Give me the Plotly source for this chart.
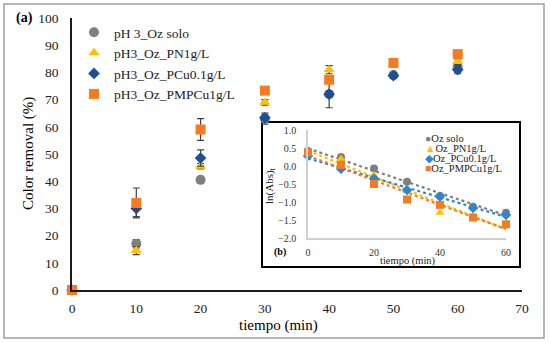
import numpy as np
import plotly.graph_objects as go

# ---------------- data ----------------
t_main = [0, 10, 20, 30, 40, 50, 60]
main_names = ["pH 3_Oz solo", "pH3_Oz_PN1g/L", "pH3_Oz_PCu0.1g/L", "pH3_Oz_PMPCu1g/L"]
solo = [0, 17, 40.5, 63, 72, 79, 82]
pn1 = [0, 14.5, 45.5, 69, 81, 83, 84]
pcu = [0, 30, 48.5, 63.3, 72, 78.8, 81]
pmpcu = [0, 32, 59, 73.3, 77.3, 83.5, 86.7]
err_solo = [0, 1.5, 0, 2, 5, 1, 2]
err_pn1 = [0, 1.5, 1, 1, 1.5, 1, 1]
err_pcu = [0, 3, 3, 1, 1, 1, 1.5]
err_pmpcu = [0, 5.5, 4, 1, 1, 1, 1]

t_inset = [0, 10, 20, 30, 40, 50, 60]
inset_names = ["Oz solo", "Oz_PN1g/L", "Oz_PCu0.1g/L", "Oz_PMPCu1g/L"]
ln_solo = [0.42, 0.25, -0.07, -0.44, -0.83, -1.13, -1.30]
ln_pn1 = [0.38, 0.20, -0.25, -0.70, -1.30, -1.40, -1.60]
ln_pcu = [0.28, -0.08, -0.35, -0.67, -0.85, -1.17, -1.36]
ln_pmpcu = [0.38, 0.03, -0.50, -0.93, -1.08, -1.43, -1.62]

x_ticks_main = [0, 10, 20, 30, 40, 50, 60, 70]
y_ticks_main = [0, 10, 20, 30, 40, 50, 60, 70, 80, 90, 100]
x_ticks_inset = [0, 20, 40, 60]
y_ticks_inset = [1.0, 0.5, 0.0, -0.5, -1.0, -1.5, -2.0]

# ---------------- styles ----------------
colors = ["#7f7f7f", "#ffc000", "#1f4e99", "#f47b20"]
inset_colors = ["#7f7f7f", "#ffc000", "#2e86d0", "#f47b20"]
symbols = ["circle", "triangle-up", "diamond", "square"]
sizes = [10, 10, 9, 10]
glyphs = ["\u25CF", "\u25B2", "\u25C6", "\u25A0"]
FONT = "Liberation Serif, Times New Roman, serif"

fig = go.Figure()

main_series = [solo, pn1, pcu, pmpcu]
main_errs = [err_solo, err_pn1, err_pcu, err_pmpcu]
for name, ys, es, c, s, sz in zip(main_names, main_series, main_errs, colors, symbols, sizes):
    fig.add_trace(go.Scatter(
        x=t_main, y=ys, mode="markers", name=name,
        marker=dict(color=c, symbol=s, size=sz, line=dict(width=0)),
        error_y=dict(type="data", array=es, color="#404040", thickness=1.2, width=3.5),
        cliponaxis=False, xaxis="x", yaxis="y", legend="legend",
    ))

# inset traces + trend lines (least-squares fit of each inset series)
inset_series = [ln_solo, ln_pn1, ln_pcu, ln_pmpcu]
tx = np.array(t_inset, dtype=float)
for name, ys, c, s in zip(inset_names, inset_series, inset_colors, symbols):
    k, b = np.polyfit(tx, np.array(ys), 1)
    xl = [tx.min(), tx.max()]
    fig.add_trace(go.Scatter(
        x=xl, y=[k * v + b for v in xl], mode="lines",
        line=dict(color=c, width=2.2, dash="dot"),
        showlegend=False, xaxis="x2", yaxis="y2", hoverinfo="skip",
    ))
for name, ys, c, s in zip(inset_names, inset_series, inset_colors, symbols):
    fig.add_trace(go.Scatter(
        x=t_inset, y=ys, mode="markers", name=name,
        marker=dict(color=c, symbol=s, size=8),
        showlegend=False, cliponaxis=False, xaxis="x2", yaxis="y2",
    ))

L, R, T, B = 72, 28, 18, 53
W, H = 550, 343
PW, PH = W - L - R, H - T - B


def px(xp):
    return (xp - L) / PW


def py(yp):
    return (H - B - yp) / PH


shapes = [
    # outer gray frame
    dict(type="rect", xref="paper", yref="paper", x0=px(4), x1=px(544), y0=py(338), y1=py(4),
         line=dict(color="#a0a0a0", width=1.5), fillcolor="rgba(0,0,0,0)", layer="below"),
    # inset box
    dict(type="rect", xref="paper", yref="paper", x0=px(262), x1=px(520), y0=py(267), y1=py(122),
         line=dict(color="#000000", width=2), fillcolor="white", layer="below"),
]

annotations = [
    dict(text="<b>(a)</b>", x=px(14), y=py(18), xref="paper", yref="paper", xanchor="left",
         yanchor="middle", showarrow=False, font=dict(family=FONT, size=14, color="black")),
    dict(text="Color removal (%)", x=px(28), y=py(154), xref="paper", yref="paper", textangle=-90,
         xanchor="center", yanchor="middle", showarrow=False, font=dict(family=FONT, size=15, color="black")),
    dict(text="tiempo (min)", x=px(278), y=py(325), xref="paper", yref="paper",
         xanchor="center", yanchor="middle", showarrow=False, font=dict(family=FONT, size=15, color="black")),
    dict(text="<b>(b)</b>", x=px(272), y=py(252), xref="paper", yref="paper", xanchor="left",
         yanchor="middle", showarrow=False, font=dict(family=FONT, size=10, color="black")),
    dict(text="ln(Abs)<sub>t</sub>", x=px(270), y=py(186), xref="paper", yref="paper", textangle=-90,
         xanchor="center", yanchor="middle", showarrow=False, font=dict(family=FONT, size=11, color="#222")),
    dict(text="tiempo (min)", x=px(408), y=py(261), xref="paper", yref="paper",
         xanchor="center", yanchor="middle", showarrow=False, font=dict(family=FONT, size=10.5, color="#222")),
]
row_y = [138, 148, 158, 168]
for name, c, g, yy in zip(inset_names, inset_colors, glyphs, row_y):
    annotations.append(dict(
        text=f"<span style='color:{c}'>{g}</span>{name}", x=px(423), y=py(yy), xref="paper", yref="paper",
        xanchor="left", yanchor="middle", showarrow=False,
        font=dict(family=FONT, size=10.5, color="#222")))

fig.update_layout(
    width=W, height=H, margin=dict(l=L, r=R, t=T, b=B),
    paper_bgcolor="white", plot_bgcolor="rgba(0,0,0,0)",
    font=dict(family=FONT, size=13, color="#222"),
    xaxis=dict(domain=[0, 1], range=[0, 70], tickvals=x_ticks_main, showgrid=False, zeroline=False,
               showline=True, linecolor="#1a1a1a", linewidth=1.5, ticks="outside", ticklen=5,
               tickcolor="rgba(0,0,0,0)", tickfont=dict(family=FONT, size=13.5, color="#222")),
    yaxis=dict(domain=[0, 1], range=[0, 100], tickvals=y_ticks_main, showgrid=False, zeroline=False,
               showline=True, linecolor="#1a1a1a", linewidth=1.5, ticks="outside", ticklen=9,
               tickcolor="rgba(0,0,0,0)", tickfont=dict(family=FONT, size=13.5, color="#222")),
    xaxis2=dict(domain=[px(308), px(506)], anchor="y2", range=[0, 60], tickvals=x_ticks_inset,
                showgrid=False, zeroline=False, showline=True, linecolor="#d0d0d0", linewidth=1.5,
                ticks="outside", ticklen=4, tickcolor="rgba(0,0,0,0)",
                tickfont=dict(family=FONT, size=10, color="#333")),
    yaxis2=dict(domain=[py(238), py(130)], anchor="x2", range=[-2, 1], tickvals=y_ticks_inset,
                tickformat=".1f", showgrid=False, zeroline=False, showline=True, linecolor="#d0d0d0",
                linewidth=1.5, ticks="outside", ticklen=8, tickcolor="rgba(0,0,0,0)",
                tickfont=dict(family=FONT, size=10, color="#333")),
    legend=dict(x=px(74), y=py(17), xanchor="left", yanchor="top", bgcolor="rgba(0,0,0,0)",
                font=dict(family=FONT, size=13.5, color="#222"), itemwidth=30, tracegroupgap=0),
    shapes=shapes, annotations=annotations, showlegend=True,
)

fig.write_html("out.html", config={"displayModeBar": False},
               post_script="document.body.style.margin='0px';document.body.style.padding='0px';")
